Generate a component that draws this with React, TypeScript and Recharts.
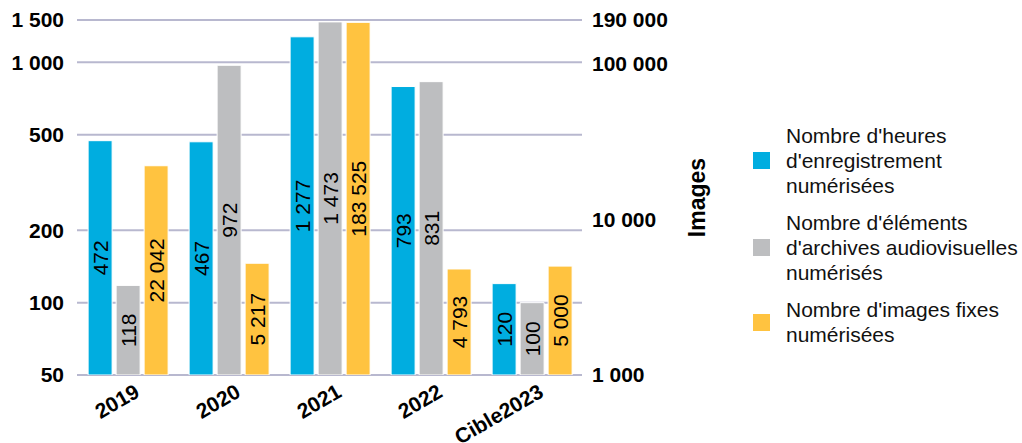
import { BarChart, Bar, XAxis, YAxis, CartesianGrid, Legend, LabelList } from 'recharts';

// Données
const categories = ['2019', '2020', '2021', '2022', 'Cible2023'];
const heures = [472, 467, 1277, 793, 120];
const elements = [118, 972, 1473, 831, 100];
const images = [22042, 5217, 183525, 4793, 5000];

const leftTicks = [50, 100, 200, 500, 1000, 1500];
const rightTicks = [1000, 10000, 100000, 190000];

const seriesOrder = ['heures', 'elements', 'images'];
const seriesNames = {
  heures: "Nombre d'heures\nd'enregistrement\nnumérisées",
  elements: "Nombre d'éléments\nd'archives audiovisuelles\nnumérisés",
  images: "Nombre d'images fixes\nnumérisées",
};

const BLUE = '#00ade0';
const GRAY = '#bdbec0';
const YELLOW = '#ffc340';
const GRID = '#b8b8cf';

const data = categories.map((year, i) => ({
  year,
  heures: heures[i],
  elements: elements[i],
  images: images[i],
}));

// 1500 -> "1 500"
const fmt = (v: any) => String(v).replace(/\B(?=(\d{3})+(?!\d))/g, ' ');
// espace insécable pour que les étiquettes des barres ne se coupent pas
const fmtLabel = (v: any) => String(v).replace(/\B(?=(\d{3})+(?!\d))/g, '\u00a0');

const XTick = ({ x, y, payload }: any) => {
  const px = x + 6;
  return (
    <text
      x={px}
      y={y}
      dy="0.71em"
      textAnchor="end"
      fontSize={21}
      fontWeight="bold"
      fill="#000"
      transform={`rotate(-30, ${px}, ${y})`}
    >
      {payload.value}
    </text>
  );
};

const LegendContent = ({ payload }: any) => {
  const items = [...(payload || [])].sort(
    (a: any, b: any) => seriesOrder.indexOf(a.dataKey) - seriesOrder.indexOf(b.dataKey)
  );
  return (
    <div>
      {items.map((entry: any) => (
        <div
          key={entry.dataKey}
          style={{ display: 'flex', alignItems: 'center', marginBottom: 12 }}
        >
          <span
            style={{
              display: 'inline-block',
              width: 17,
              height: 17,
              marginLeft: 3,
              marginRight: 16,
              background: entry.color,
              flexShrink: 0,
            }}
          />
          <span style={{ whiteSpace: 'pre-line', fontSize: 21, lineHeight: '25px', color: '#111' }}>
            {entry.value}
          </span>
        </div>
      ))}
    </div>
  );
};

export default function App() {
  return (
    <div
      style={{
        position: 'absolute',
        left: 0,
        top: 0,
        fontFamily: '"Liberation Sans", Arial, sans-serif',
      }}
    >
      <BarChart
        width={1022}
        height={443}
        data={data}
        margin={{ top: 20, right: 0, left: 0, bottom: 8 }}
        barCategoryGap="11%"
        barGap={4}
      >
        <CartesianGrid yAxisId="left" vertical={false} stroke={GRID} strokeWidth={2} />
        <XAxis
          dataKey="year"
          axisLine={false}
          tickLine={false}
          height={60}
          interval={0}
          tick={<XTick />}
        />
        <YAxis
          yAxisId="left"
          scale="log"
          domain={[50, 1500]}
          ticks={leftTicks}
          allowDataOverflow
          interval={0}
          axisLine={false}
          tickLine={false}
          width={77}
          tickMargin={7}
          tickFormatter={fmt}
          tick={{ fill: '#000', fontSize: 21, fontWeight: 'bold' }}
        />
        <YAxis
          yAxisId="right"
          orientation="right"
          scale="log"
          domain={[1000, 190000]}
          ticks={rightTicks}
          allowDataOverflow
          interval={0}
          axisLine={false}
          tickLine={false}
          width={168}
          tickMargin={4}
          tickFormatter={fmt}
          tick={{ fill: '#000', fontSize: 21, fontWeight: 'bold', textAnchor: 'start' }}
          label={{
            value: 'Images',
            angle: -90,
            position: 'center',
            dx: 31,
            fill: '#000',
            fontSize: 23,
            fontWeight: 'bold',
          }}
        />
        <Legend
          layout="vertical"
          align="right"
          verticalAlign="middle"
          width={272}
          wrapperStyle={{ top: 123, right: 0 }}
          content={<LegendContent />}
        />
        <Bar
          yAxisId="left"
          dataKey="heures"
          name={seriesNames.heures}
          fill={BLUE}
          stroke="#ffffff"
          strokeWidth={1}
          isAnimationActive={false}
        >
          <LabelList dataKey="heures" position="center" angle={-90} formatter={fmtLabel} fill="#000" fontSize={21} />
        </Bar>
        <Bar
          yAxisId="left"
          dataKey="elements"
          name={seriesNames.elements}
          fill={GRAY}
          stroke="#ffffff"
          strokeWidth={1}
          isAnimationActive={false}
        >
          <LabelList dataKey="elements" position="center" angle={-90} formatter={fmtLabel} fill="#000" fontSize={21} />
        </Bar>
        <Bar
          yAxisId="right"
          dataKey="images"
          name={seriesNames.images}
          fill={YELLOW}
          stroke="#ffffff"
          strokeWidth={1}
          isAnimationActive={false}
        >
          <LabelList dataKey="images" position="center" angle={-90} formatter={fmtLabel} fill="#000" fontSize={21} />
        </Bar>
      </BarChart>
    </div>
  );
}
